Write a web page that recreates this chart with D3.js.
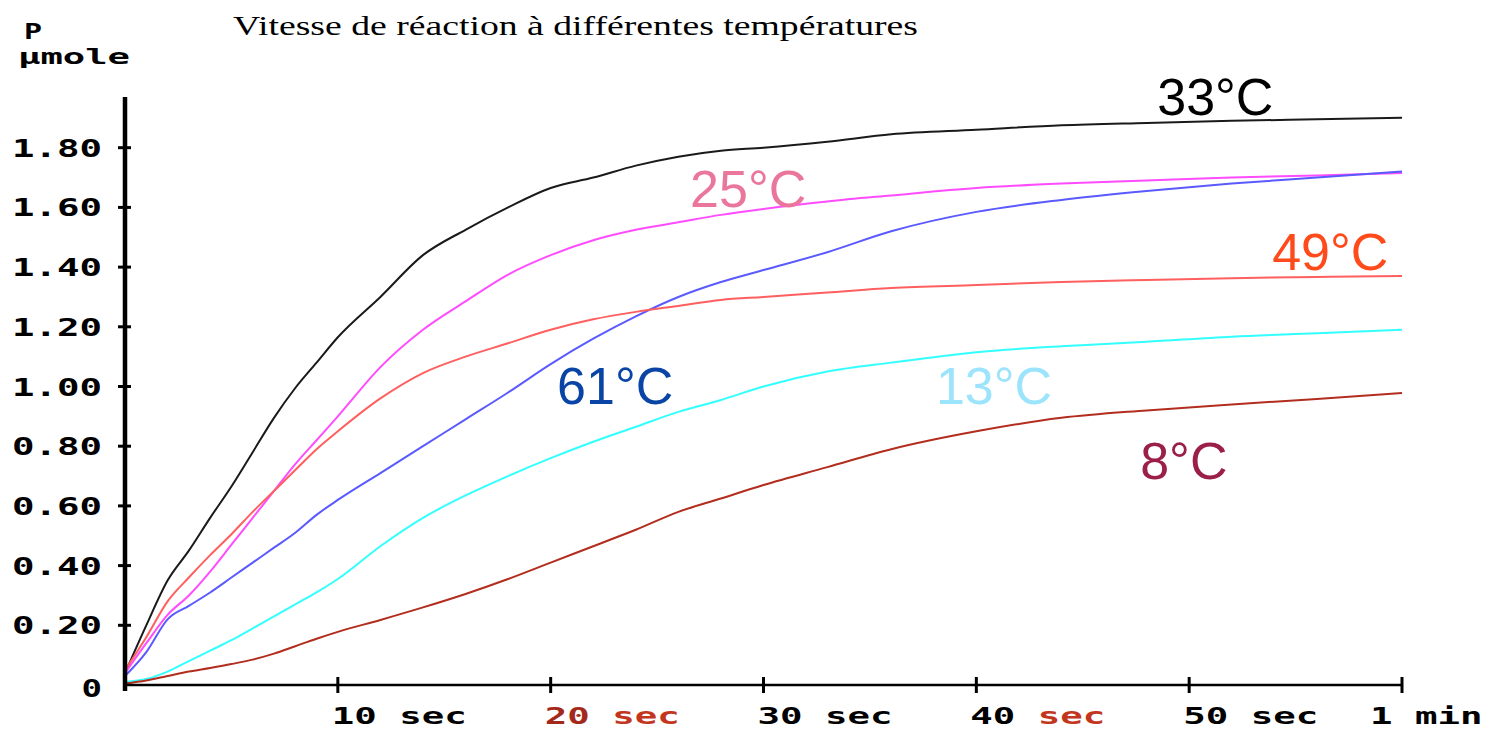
<!DOCTYPE html>
<html>
<head>
<meta charset="utf-8">
<script src="https://cdn.jsdelivr.net/npm/d3@7/dist/d3.min.js"></script>
<style>
  html, body { margin: 0; padding: 0; background: #ffffff; }
  svg { display: block; }
  .tick-y { font-family: "DejaVu Sans Mono", monospace; font-weight: bold; font-size: 24px; }
  .tick-x { font-family: "DejaVu Sans Mono", monospace; font-weight: bold; font-size: 23px; }
  .unit { font-family: "DejaVu Sans Mono", monospace; font-weight: bold; }
  .title { font-family: "Liberation Serif", "DejaVu Serif", serif; font-size: 28px; }
  .lbl { font-family: "Liberation Sans", Arial, sans-serif; font-size: 52px; }
</style>
</head>
<body>
<svg id="chart" width="1491" height="731"></svg>
<script>
// ---- data ----
const times = [0, 1, 2, 3, 4, 5, 6, 7, 8, 9, 10, 12, 14, 16, 18, 20, 22, 24, 26, 28, 30, 33, 36, 40, 44, 48, 52, 56, 60];

const s33 = [0.04, 0.20, 0.35, 0.45, 0.56, 0.665, 0.78, 0.895, 0.995, 1.08, 1.165, 1.30, 1.44, 1.525, 1.60, 1.665, 1.70, 1.74, 1.77, 1.79, 1.80, 1.82, 1.845, 1.86, 1.875, 1.883, 1.89, 1.895, 1.90];
const s25 = [0.04, 0.14, 0.235, 0.30, 0.38, 0.47, 0.56, 0.65, 0.74, 0.82, 0.90, 1.065, 1.19, 1.285, 1.375, 1.44, 1.49, 1.525, 1.55, 1.575, 1.595, 1.62, 1.64, 1.665, 1.68, 1.69, 1.70, 1.707, 1.715];
const s61 = [0.03, 0.11, 0.22, 0.265, 0.31, 0.36, 0.41, 0.46, 0.51, 0.57, 0.62, 0.71, 0.80, 0.89, 0.98, 1.075, 1.16, 1.235, 1.30, 1.35, 1.39, 1.45, 1.52, 1.585, 1.625, 1.655, 1.68, 1.70, 1.72];
const s49 = [0.05, 0.16, 0.28, 0.36, 0.435, 0.505, 0.58, 0.65, 0.72, 0.79, 0.85, 0.96, 1.045, 1.10, 1.145, 1.19, 1.225, 1.25, 1.27, 1.29, 1.30, 1.315, 1.33, 1.34, 1.35, 1.357, 1.363, 1.367, 1.37];
const s13 = [0.01, 0.02, 0.045, 0.08, 0.115, 0.15, 0.19, 0.23, 0.27, 0.31, 0.355, 0.465, 0.56, 0.635, 0.70, 0.76, 0.815, 0.865, 0.915, 0.955, 1.00, 1.05, 1.08, 1.115, 1.135, 1.15, 1.167, 1.178, 1.19];
const s8  = [0.005, 0.015, 0.03, 0.045, 0.057, 0.07, 0.085, 0.105, 0.13, 0.155, 0.178, 0.218, 0.26, 0.305, 0.355, 0.41, 0.465, 0.52, 0.58, 0.625, 0.67, 0.73, 0.79, 0.85, 0.895, 0.92, 0.94, 0.958, 0.978];

const seriesNames = ["33°C", "25°C", "61°C", "49°C", "13°C", "8°C"];
const seriesValues = [s33, s25, s61, s49, s13, s8];

const yTickValues = [0, 0.2, 0.4, 0.6, 0.8, 1.0, 1.2, 1.4, 1.6, 1.8];
const yTickLabels = ["0", "0.20", "0.40", "0.60", "0.80", "1.00", "1.20", "1.40", "1.60", "1.80"];
const xTickValues = [10, 20, 30, 40, 50, 60];
const xTickLabels = ["10 sec", "20 sec", "30 sec", "40 sec", "50 sec", "1 min"];

const titleText = "Vitesse de réaction à différentes températures";
const unitTop = "P";
const unitBottom = "µmole";

// ---- styling ----
const lineColors = { "33°C": "#1a1a1a", "25°C": "#ff4cff", "61°C": "#5a5aff", "49°C": "#ff5f5f", "13°C": "#33ffff", "8°C": "#b32d1e" };
const labelColors = { "33°C": "#000000", "25°C": "#ea769c", "61°C": "#0a45a5", "49°C": "#ff4a1c", "13°C": "#9be4fb", "8°C": "#9b2049" };
const labelPos = { "33°C": [48.5, 1.91], "25°C": [26.55, 1.60], "61°C": [20.3, 0.94], "49°C": [53.9, 1.39], "13°C": [38.1, 0.94], "8°C": [47.7, 0.69] };
const charW = 22.5;

const svg = d3.select("#chart");
const x = d3.scaleLinear().domain([0, 60]).range([125, 1402]);
const y = d3.scaleLinear().domain([0, 1]).range([685, 386.5]);

// title
svg.append("text").attr("class", "title")
  .attr("x", 233).attr("y", 35)
  .attr("textLength", 685).attr("lengthAdjust", "spacingAndGlyphs")
  .text(titleText);

// unit label
svg.append("text").attr("class", "unit").attr("x", 24).attr("y", 39).attr("font-size", 22)
  .attr("textLength", 18).attr("lengthAdjust", "spacingAndGlyphs").text(unitTop);
svg.append("text").attr("class", "unit").attr("x", 18).attr("y", 64).attr("font-size", 22)
  .attr("textLength", 112).attr("lengthAdjust", "spacingAndGlyphs").text(unitBottom);

// series lines
const line = d3.line().x((d, i) => x(times[i])).y(d => y(d)).curve(d3.curveMonotoneX);
seriesNames.forEach((name, k) => {
  svg.append("path")
    .datum(seriesValues[k])
    .attr("fill", "none")
    .attr("stroke", lineColors[name])
    .attr("stroke-width", 2)
    .attr("d", line);
});

// y axis
const yAxis = d3.axisLeft(y).tickValues(yTickValues).tickSize(0).tickFormat("");
const gy = svg.append("g").attr("transform", "translate(125,0)").call(yAxis);
gy.select(".domain").remove();
svg.append("line").attr("x1", 125).attr("x2", 125).attr("y1", 97).attr("y2", 691)
  .attr("stroke", "#000").attr("stroke-width", 4.5);
yTickValues.forEach((v, i) => {
  if (i > 0) {
    svg.append("line").attr("x1", 118).attr("x2", 131).attr("y1", y(v)).attr("y2", y(v))
      .attr("stroke", "#000").attr("stroke-width", 3);
  }
  const lab = yTickLabels[i];
  svg.append("text").attr("class", "tick-y")
    .attr("x", 102).attr("y", y(v) + (i === 0 ? 12 : 9))
    .attr("text-anchor", "end")
    .attr("textLength", lab.length * charW - (lab.length > 1 ? 0 : 2))
    .attr("lengthAdjust", "spacingAndGlyphs")
    .text(lab);
});

// x axis
svg.append("line").attr("x1", 125).attr("x2", 1403).attr("y1", 685).attr("y2", 685)
  .attr("stroke", "#000").attr("stroke-width", 2.5);
const xAxis = d3.axisBottom(x).tickValues(xTickValues).tickSize(0).tickFormat("");
const gx = svg.append("g").attr("transform", "translate(0,685)").call(xAxis);
gx.select(".domain").remove();
xTickValues.forEach((v, i) => {
  svg.append("line").attr("x1", x(v)).attr("x2", x(v)).attr("y1", 677).attr("y2", 693)
    .attr("stroke", "#000").attr("stroke-width", 3);
  const last = i === xTickValues.length - 1;
  const lab = xTickLabels[i];
  const t = svg.append("text").attr("class", "tick-x")
    .attr("x", last ? x(v) - 32 : x(v) - 6).attr("y", 724)
    .attr("textLength", lab.length * charW)
    .attr("lengthAdjust", "spacingAndGlyphs");
  const parts = lab.split(" ");
  const numCol = (i === 1) ? "#a3291a" : "#000";
  const unitCol = (i === 1 || i === 3) ? "#c2361e" : "#000";
  t.append("tspan").attr("fill", numCol).text(parts[0] + " ");
  t.append("tspan").attr("fill", unitCol).text(parts[1]);
});

// series labels
seriesNames.forEach(name => {
  const p = labelPos[name];
  svg.append("text").attr("class", "lbl")
    .attr("x", x(p[0])).attr("y", y(p[1]))
    .attr("fill", labelColors[name])
    .text(name);
});
</script>
</body>
</html>
